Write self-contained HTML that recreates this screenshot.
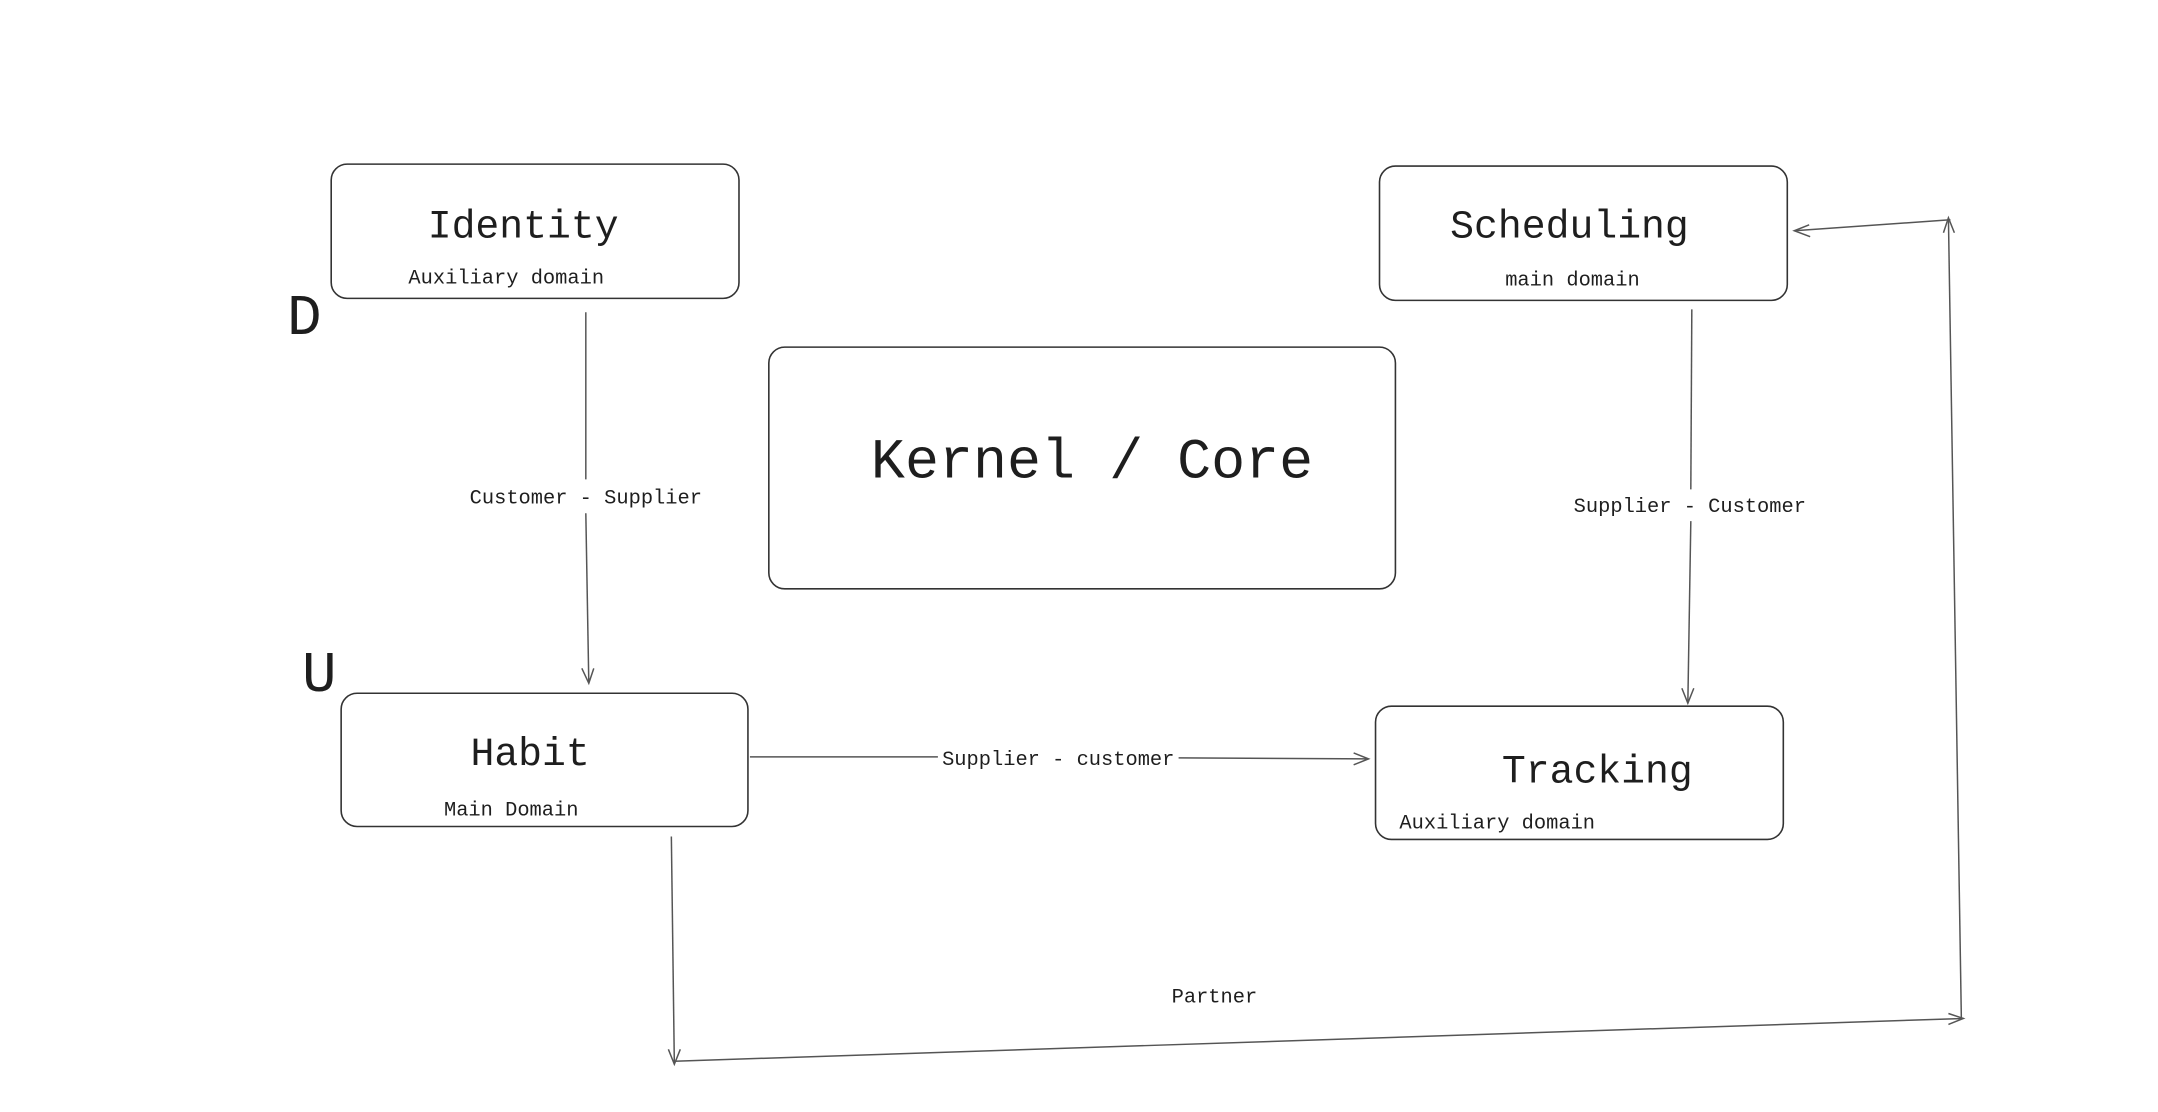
<!DOCTYPE html>
<html><head><meta charset="utf-8"><style>
html,body{margin:0;padding:0;background:#fff;}
svg{display:block;}
text{font-family:"Liberation Mono",monospace;fill:#1e1e1e;}
</style></head><body>
<svg width="2158" height="1112" viewBox="0 0 2158 1112" xmlns="http://www.w3.org/2000/svg">
<g transform="scale(0.9946)">
<g fill="none" stroke="#333" stroke-width="1.6">
<rect x="333" y="165" width="410" height="135" rx="16"/>
<rect x="1387" y="167" width="410" height="135" rx="16"/>
<rect x="773" y="349" width="630" height="243" rx="16"/>
<rect x="343" y="697" width="409" height="134" rx="16"/>
<rect x="1383" y="710" width="410" height="134" rx="16"/>
</g>
<g fill="none" stroke="#555" stroke-width="1.5">
<line x1="589" y1="314" x2="589" y2="482"/>
<line x1="589" y1="516" x2="592" y2="687"/>
<polyline points="585,672 592,687 597,672"/>
<line x1="1701" y1="311" x2="1700" y2="492"/>
<line x1="1700" y1="524" x2="1697" y2="707"/>
<polyline points="1691,692 1697,707 1703,692"/>
<line x1="754" y1="761" x2="943" y2="761"/>
<line x1="1185" y1="762" x2="1376" y2="763"/>
<polyline points="1361,757 1376,763 1361,769"/>
<line x1="675" y1="841" x2="678" y2="1070"/>
<polyline points="672,1055 678,1070 684,1055"/>
<line x1="678" y1="1067" x2="1974" y2="1024"/>
<polyline points="1959,1019 1974,1024 1959,1030"/>
<line x1="1972" y1="1024" x2="1959" y2="219"/>
<polyline points="1954,234 1959,219 1965,234"/>
<line x1="1961" y1="221" x2="1804" y2="232"/>
<polyline points="1819,226 1804,232 1820,238"/>
</g>
<text x="526" y="239" font-size="40" text-anchor="middle">Identity</text>
<text x="509" y="285" font-size="20.5" text-anchor="middle">Auxiliary domain</text>
<text x="1578" y="239" font-size="40" text-anchor="middle">Scheduling</text>
<text x="1581" y="287" font-size="20.5" text-anchor="middle">main domain</text>
<text x="1098" y="480" font-size="57" text-anchor="middle">Kernel / Core</text>
<text x="533" y="769" font-size="40" text-anchor="middle">Habit</text>
<text x="514" y="820" font-size="20.5" text-anchor="middle">Main Domain</text>
<text x="1606" y="787" font-size="40" text-anchor="middle">Tracking</text>
<text x="1407" y="833" font-size="20.5">Auxiliary domain</text>
<text x="589" y="506" font-size="20.5" text-anchor="middle">Customer - Supplier</text>
<text x="1699" y="515" font-size="20.5" text-anchor="middle">Supplier - Customer</text>
<text x="1064" y="769" font-size="20.5" text-anchor="middle">Supplier - customer</text>
<text x="1221" y="1008" font-size="20.5" text-anchor="middle">Partner</text>
<text x="306" y="336" font-size="58" font-family="Liberation Sans,sans-serif" text-anchor="middle">D</text>
<text x="321" y="695" font-size="58" font-family="Liberation Sans,sans-serif" text-anchor="middle">U</text>
</g>
</svg>
</body></html>
